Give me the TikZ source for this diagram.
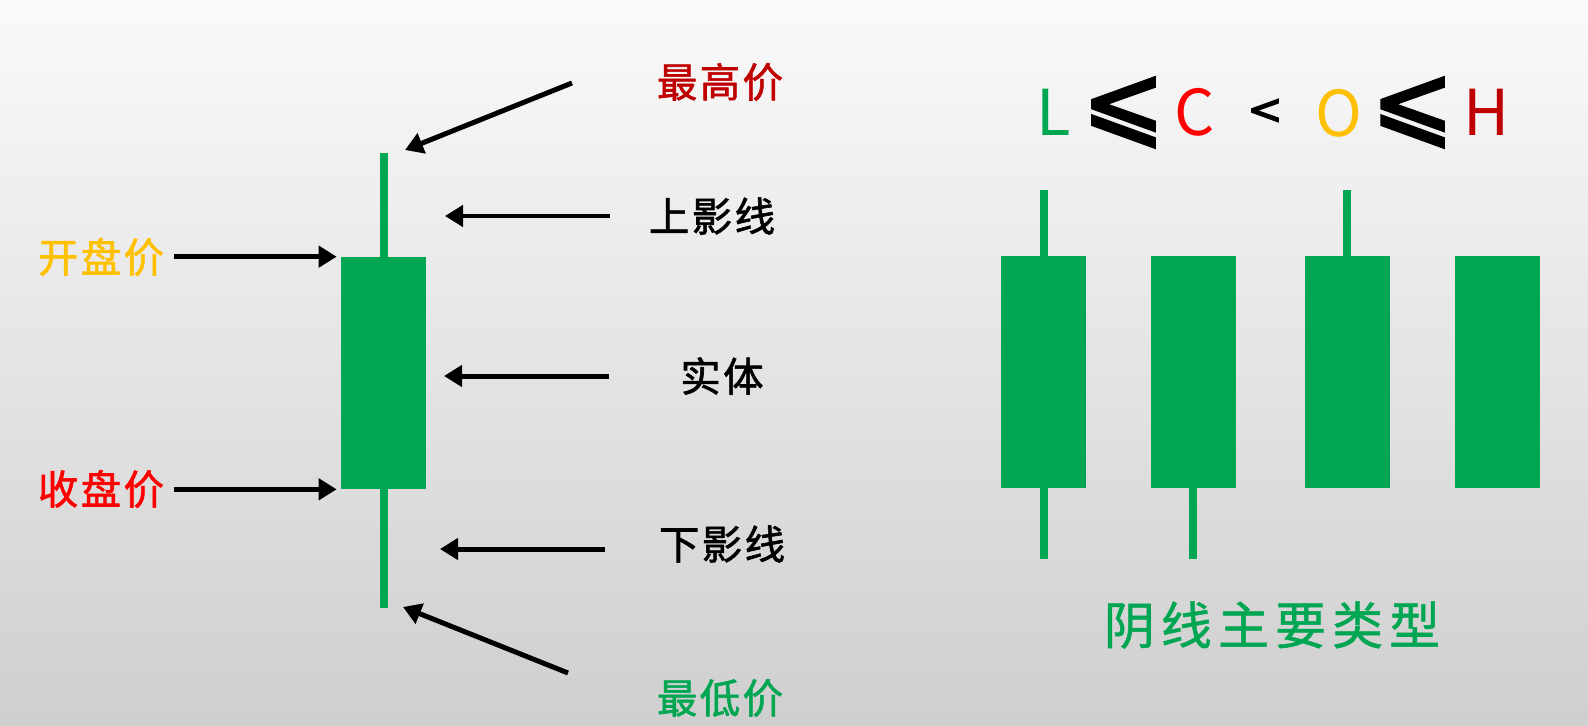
\documentclass[tikz,border=0pt]{standalone}
\usepackage{fontspec}
\setmainfont{Noto Sans CJK SC}
\newfontfamily\tagfont[LetterSpace=6, FakeBold=1.5]{Noto Sans CJK SC}
\newfontfamily\titlefont[LetterSpace=12, FakeBold=1]{Noto Sans CJK SC}
\newfontfamily\symfont[FakeBold=3]{DejaVu Sans}
\usepackage{xcolor}
\usetikzlibrary{positioning, arrows.meta}

\definecolor{kgreen}{RGB}{0,166,81}
\definecolor{kred}{RGB}{255,0,0}
\definecolor{kdarkred}{RGB}{192,0,0}
\definecolor{korange}{RGB}{255,192,0}

\tikzset{
  candlebody/.style={fill=kgreen, minimum width=1.7cm, minimum height=4.64cm, inner sep=0pt},
  wick/.style={kgreen, line width=0.16cm},
  pointer/.style={-{Triangle[length=0.36cm, width=0.42cm]}, line width=0.1cm},
  tag/.style={font=\tagfont\fontsize{23}{28}\selectfont, inner sep=0.2cm},
  letter/.style={font=\fontsize{36}{40}\selectfont, inner sep=0pt},
  relsym/.style={font=\symfont\fontsize{56}{60}\selectfont, inner sep=0pt}
}

\begin{document}
\begin{tikzpicture}[x=0.02cm, y=-0.02cm]
\useasboundingbox (0,0) rectangle (1588,726);
\shade[top color=white!98!black, bottom color=white!81!black] (0,0) rectangle (1588,726);

% one candle with its parts
\node[candlebody] (body) at (383.5,373) {};
\draw[wick] (body.north) -- ++(0,-104);
\draw[wick] (body.south) -- ++(0,119);

\node[tag, kdarkred] (high) at (720,82) {最高价};
\node[tag] (ushadow) at (712,216) {上影线};
\node[tag] (entity) at (722,376) {实体};
\node[tag] (lshadow) at (722,544) {下影线};
\node[tag, kgreen] (low) at (720,698) {最低价};
\node[tag, korange] (open) at (101,257) {开盘价};
\node[tag, kred] (close) at (101,489) {收盘价};

\coordinate (high-tail) at (572,83);
\coordinate (high-tip) at (405,150);
\coordinate (ushadow-tail) at (610,216);
\coordinate (ushadow-tip) at (445,216);
\coordinate (entity-tail) at (609,376);
\coordinate (entity-tip) at (444,376);
\coordinate (lshadow-tail) at (605,549);
\coordinate (lshadow-tip) at (440,549);
\coordinate (low-tail) at (568,673);
\coordinate (low-tip) at (403,607);

\draw[pointer] (high-tail) -- (high-tip);
\draw[pointer] (ushadow-tail) -- (ushadow-tip);
\draw[pointer] (entity-tail) -- (entity-tip);
\draw[pointer] (lshadow-tail) -- (lshadow-tip);
\draw[pointer] (low-tail) -- (low-tip);
\draw[pointer] (open.east |- body.north west) -- ([xshift=-0.08cm]body.north west);
\draw[pointer] (close.east |- body.south west) -- ([xshift=-0.08cm]body.south west);

% L <= C < O <= H
\node[letter, kgreen] (rl) at (1054,112.5) {L};
\node[relsym] (rle1) at (1123.5,112.5) {⩽};
\node[letter, kred] (rc) at (1195,112.5) {C};
\node[font=\symfont\fontsize{24}{28}\selectfont, inner sep=0pt] (rlt) at (1265,111.5) {<};
\node[letter, korange] (ro) at (1338.5,113) {O};
\node[relsym] (rle2) at (1412.5,112.5) {⩽};
\node[letter, kdarkred] (rh) at (1487,112.5) {H};

% four bearish types
\foreach \cx [count=\i] in {1043.5, 1193, 1347, 1497}
  \node[candlebody] (c\i) at (\cx,372) {};
\draw[wick] (c1.north) -- ++(0,-66);
\draw[wick] (c1.south) -- ++(0,71);
\draw[wick] (c2.south) -- ++(0,71);
\draw[wick] (c3.north) -- ++(0,-66);

\node[font=\titlefont\fontsize{29}{34}\selectfont, kgreen] (title) at (1272,625) {阴线主要类型};
\end{tikzpicture}
\end{document}
